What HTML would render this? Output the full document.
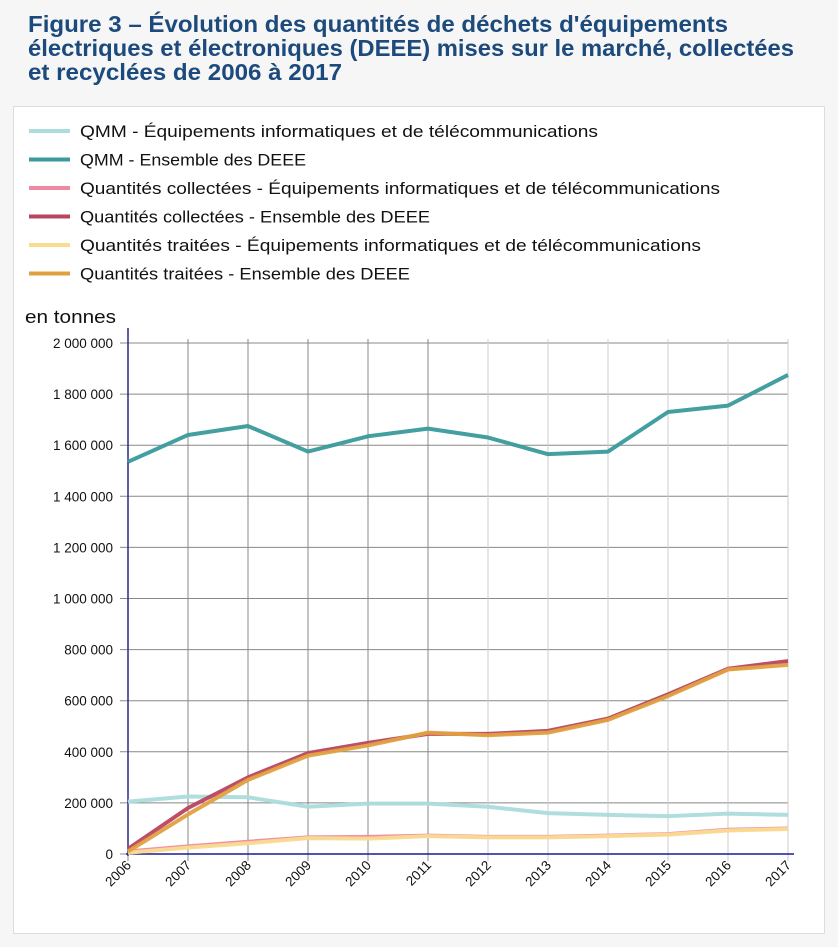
<!DOCTYPE html>
<html><head><meta charset="utf-8"><style>
html,body{margin:0;padding:0;background:#f6f6f6;}
svg{display:block;font-family:"Liberation Sans","DejaVu Sans",sans-serif;}
</style></head><body>
<svg width="838" height="947" viewBox="0 0 838 947">
<g fill="#1c4a7d" font-weight="bold" font-size="23">
<text x="28" y="32" textLength="700" lengthAdjust="spacingAndGlyphs">Figure 3 – Évolution des quantités de déchets d'équipements</text>
<text x="28" y="56" textLength="766" lengthAdjust="spacingAndGlyphs">électriques et électroniques (DEEE) mises sur le marché, collectées</text>
<text x="28" y="80" textLength="314" lengthAdjust="spacingAndGlyphs">et recyclées de 2006 à 2017</text>
</g>
<rect x="13.5" y="106.5" width="811" height="827" fill="#fff" stroke="#ddd"/>
<g id="legend"></g>
<text x="25" y="323" font-size="18" fill="#111" textLength="91" lengthAdjust="spacingAndGlyphs">en tonnes</text>
<g id="grid"></g>
<g id="axes"></g>
<g id="series"></g>
</svg>
<script>
const years = [2006,2007,2008,2009,2010,2011,2012,2013,2014,2015,2016,2017];
const yTicks = [0,200000,400000,600000,800000,1000000,1200000,1400000,1600000,1800000,2000000];
const yTickLabels = ["0","200 000","400 000","600 000","800 000","1 000 000","1 200 000","1 400 000","1 600 000","1 800 000","2 000 000"];
const seriesNames = ["QMM - Équipements informatiques et de télécommunications","QMM - Ensemble des DEEE","Quantités collectées - Équipements informatiques et de télécommunications","Quantités collectées - Ensemble des DEEE","Quantités traitées - Équipements informatiques et de télécommunications","Quantités traitées - Ensemble des DEEE"];
const seriesColors = ["#acdcdc","#3a9a9c","#f08aa0","#b94560","#f8dc90","#e0a040"];
const legendWidths = [518,226,640,350,621,330];
const qmmIT = [205000,225000,222000,185000,197000,197000,185000,160000,153000,148000,158000,153000];
const qmmAll = [1535000,1640000,1675000,1575000,1635000,1665000,1630000,1565000,1575000,1730000,1755000,1875000];
const colIT = [10000,30000,48000,65000,67000,72000,67000,67000,72000,78000,95000,100000];
const colAll = [20000,180000,300000,395000,435000,470000,470000,482000,530000,625000,725000,755000];
const trIT = [5000,25000,42000,62000,60000,70000,65000,65000,70000,76000,92000,98000];
const trAll = [10000,155000,290000,385000,425000,475000,465000,475000,525000,618000,722000,740000];
const allSeries = [qmmIT,qmmAll,colIT,colAll,trIT,trAll];
const seriesKeys = ["qmm-it","qmm-all","collected-it","collected-all","treated-it","treated-all"];

const NS="http://www.w3.org/2000/svg";
const X0=128,X1=788,Y0=854,Y1=343;
const xs=i=>X0+(X1-X0)*i/(years.length-1);
const ys=v=>Y0-(Y0-Y1)*v/2000000;
function mk(tag,attrs,parent){const e=document.createElementNS(NS,tag);for(const k in attrs)e.setAttribute(k,attrs[k]);parent.appendChild(e);return e;}

const legend=document.getElementById('legend');
seriesNames.forEach((n,i)=>{
  const y=131+i*28.5;
  const g=mk('g',{},legend);
  
  
  mk('line',{x1:29,x2:70,y1:y,y2:y,stroke:seriesColors[i],'stroke-width':4},g);
  const t=mk('text',{x:80,y:y+6,'font-size':16.5,fill:'#111',textLength:legendWidths[i],lengthAdjust:'spacingAndGlyphs'},g);
  t.textContent=n;
});

const grid=document.getElementById('grid');
yTicks.forEach((v,i)=>{
  const y=ys(v);
  const l=mk('line',{x1:120,x2:X1,y1:y,y2:y,stroke:'#888','stroke-width':1},grid);
  
  
  const t=mk('text',{x:113,y:y+5,'font-size':13.5,'text-anchor':'end',fill:'#111'},grid);
  
  
  t.textContent=yTickLabels[i];
});
years.forEach((yr,i)=>{
  const x=xs(i);
  const l=mk('line',{x1:x,x2:x,y1:339,y2:861,stroke:i<=5?'#888':'#ccc','stroke-width':1},grid);
  
  
  const t=mk('text',{x:x+4,y:866,'font-size':13.5,'text-anchor':'end',fill:'#111',transform:`rotate(-45 ${x+4} 866)`},grid);
  
  
  t.textContent=yr;
});
const axes=document.getElementById('axes');
mk('line',{x1:X0,x2:X0,y1:328,y2:856,stroke:'#2a2a8a','stroke-width':1.5},axes);
mk('line',{x1:X0-2,x2:X1+6,y1:Y0,y2:Y0,stroke:'#1a1a9a','stroke-width':1.5},axes);

const series=document.getElementById('series');
allSeries.forEach((arr,i)=>{
  const p=mk('polyline',{points:arr.map((v,j)=>xs(j)+','+ys(v)).join(' '),fill:'none',stroke:seriesColors[i],'stroke-width':4,'stroke-linejoin':'round','stroke-opacity':0.95},series);
  
  
});
</script>
</body></html>
